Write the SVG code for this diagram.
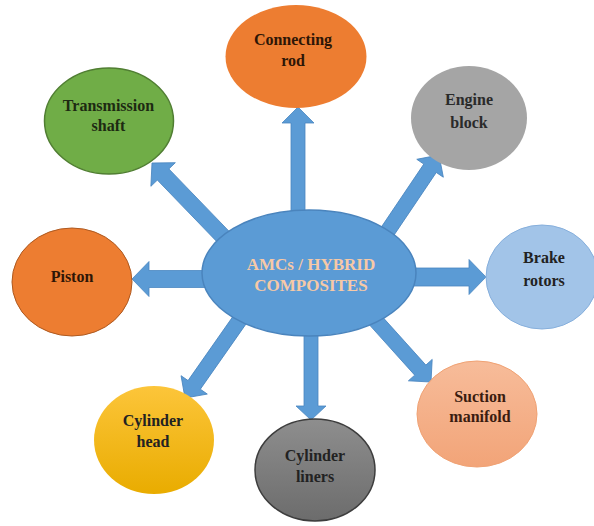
<svg xmlns="http://www.w3.org/2000/svg" width="594" height="526" viewBox="0 0 594 526">
<style>
.lbl{font-family:"Liberation Serif","Times New Roman",serif;font-weight:bold;font-size:16px;text-anchor:middle;fill:#222}
.ctr{font-family:"Liberation Serif","Times New Roman",serif;font-weight:bold;font-size:17px;text-anchor:middle;fill:#f7c9a6}
.arr{fill:#5b9bd5;stroke:#4a86c0;stroke-width:0.8}
</style>
<defs>
<linearGradient id="gYel" x1="0" y1="0" x2="0" y2="1"><stop offset="0" stop-color="#fcc53a"/><stop offset="1" stop-color="#e9ac00"/></linearGradient>
<linearGradient id="gGray" x1="0" y1="0" x2="0" y2="1"><stop offset="0" stop-color="#8e8e8e"/><stop offset="1" stop-color="#6c6c6c"/></linearGradient>
<linearGradient id="gSal" x1="0" y1="0" x2="0" y2="1"><stop offset="0" stop-color="#f7bc9a"/><stop offset="1" stop-color="#f2a478"/></linearGradient>
</defs>
<rect width="594" height="526" fill="#ffffff"/>
<g id="connectors">
<polygon class="arr" transform="translate(298,107) rotate(-90)" points="0,0 -16,-16 -16,-7 -108,-7 -108,7 -16,7 -16,16"/>
<polygon class="arr" transform="translate(152,163) rotate(-134)" points="0,0 -16,-17 -16,-8 -108,-8 -108,8 -16,8 -16,17"/>
<polygon class="arr" transform="translate(439,155) rotate(-56)" points="0,0 -16,-16 -16,-7.5 -98,-7.5 -98,7.5 -16,7.5 -16,16"/>
<polygon class="arr" transform="translate(486,277) rotate(0)" points="0,0 -17,-17.5 -17,-9 -78,-9 -78,9 -17,9 -17,17.5"/>
<polygon class="arr" transform="translate(132,279) rotate(180)" points="0,0 -17,-17.5 -17,-8.5 -78,-8.5 -78,8.5 -17,8.5 -17,17.5"/>
<polygon class="arr" transform="translate(311,420) rotate(90)" points="0,0 -14,-15 -14,-7 -92,-7 -92,7 -14,7 -14,15"/>
<polygon class="arr" transform="translate(185,398) rotate(125)" points="0,0 -16,-16 -16,-7.5 -100,-7.5 -100,7.5 -16,7.5 -16,16"/>
<polygon class="arr" transform="translate(431,382) rotate(48)" points="0,0 -16,-16 -16,-7.5 -88,-7.5 -88,7.5 -16,7.5 -16,16"/>
</g>
<g id="center">
<ellipse cx="309" cy="273" rx="107" ry="63" fill="#5b9bd5" stroke="#4a84bd" stroke-width="1.5"/>
<text class="ctr" x="311" y="270">AMCs / HYBRID</text>
<text class="ctr" x="311" y="291">COMPOSITES</text>
</g>
<g id="connecting-rod">
<ellipse cx="296" cy="56.5" rx="70.5" ry="51.5" fill="#ed7d31"/>
<text class="lbl" x="293" y="45" style="fill:#2e1606">Connecting</text>
<text class="lbl" x="293" y="66" style="fill:#2e1606">rod</text>
</g>
<g id="engine-block">
<ellipse cx="469" cy="118" rx="58" ry="52" fill="#a5a5a5"/>
<text class="lbl" x="469" y="105" style="fill:#2a2a2a">Engine</text>
<text class="lbl" x="469" y="128" style="fill:#2a2a2a">block</text>
</g>
<g id="brake-rotors">
<ellipse cx="542" cy="277" rx="56" ry="52" fill="#a2c4e8" stroke="#86afdc" stroke-width="1"/>
<text class="lbl" x="544" y="263">Brake</text>
<text class="lbl" x="544" y="286">rotors</text>
</g>
<g id="suction-manifold">
<ellipse cx="477" cy="414" rx="60" ry="53" fill="url(#gSal)" stroke="#f0a274" stroke-width="1"/>
<text class="lbl" x="480" y="402" style="fill:#3a1c10">Suction</text>
<text class="lbl" x="480" y="422" style="fill:#3a1c10">manifold</text>
</g>
<g id="cylinder-liners">
<ellipse cx="315" cy="470" rx="60" ry="51" fill="url(#gGray)" stroke="#3d3d3d" stroke-width="1.5"/>
<text class="lbl" x="315" y="461">Cylinder</text>
<text class="lbl" x="315" y="482">liners</text>
</g>
<g id="cylinder-head">
<ellipse cx="154" cy="440" rx="60" ry="54" fill="url(#gYel)"/>
<text class="lbl" x="153" y="426">Cylinder</text>
<text class="lbl" x="153" y="447">head</text>
</g>
<g id="piston">
<ellipse cx="72" cy="282" rx="60" ry="54" fill="#ed7d31" stroke="#ae5a21" stroke-width="1"/>
<text class="lbl" x="72" y="282" style="fill:#2e1606">Piston</text>
</g>
<g id="transmission-shaft">
<ellipse cx="109" cy="121" rx="64.5" ry="53" fill="#70ad47" stroke="#507e32" stroke-width="1.5"/>
<text class="lbl" x="108.5" y="111" style="fill:#1d2a12">Transmission</text>
<text class="lbl" x="108.5" y="131" style="fill:#1d2a12">shaft</text>
</g>
</svg>
